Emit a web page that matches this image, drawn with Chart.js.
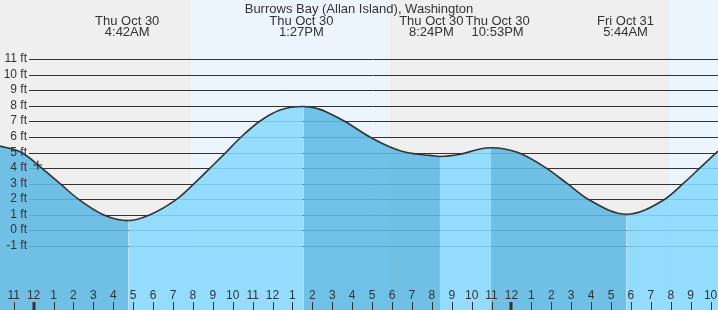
<!DOCTYPE html>
<html>
<head>
<meta charset="utf-8">
<script src="https://cdn.jsdelivr.net/npm/chart.js@4.4.1/dist/chart.umd.min.js"></script>
<style>
  html, body { margin: 0; padding: 0; background: #fff; }
  canvas { display: block; }
</style>
</head>
<body>
<canvas id="tideChart" width="718" height="310"></canvas>
<script>
const chartTitle = 'Burrows Bay (Allan Island), Washington';

// tide height in ft, time in hours from Thu Oct 30 00:00
const tideHours = [-1.69, -0.60, 0.41, 1.33, 2.25, 3.50, 4.76, 5.85, 7.19, 8.06, 8.86, 9.65, 10.42, 11.34, 12.38, 13.55, 14.38, 14.89, 15.64, 16.89, 17.90, 18.74, 19.91, 20.41, 21.41, 22.42, 22.97, 24.33, 25.75, 26.81, 27.85, 29.77, 31.70, 32.62, 33.46, 34.29, 34.37];
const tideFeet = [5.42, 5.0, 4.0, 3.0, 2.0, 1.0, 0.62, 1.0, 2.0, 3.0, 4.0, 5.0, 6.0, 7.0, 7.74, 7.96, 7.78, 7.50, 7.0, 6.0, 5.36, 5.0, 4.82, 4.75, 4.89, 5.23, 5.31, 5.0, 4.0, 3.0, 2.0, 1.03, 2.0, 3.0, 4.0, 5.0, 5.09];

// high / low labels
const eventHours = [4.70, 13.45, 20.40, 22.88, 29.73];
const eventDays = ['Thu Oct 30', 'Thu Oct 30', 'Thu Oct 30', 'Thu Oct 30', 'Fri Oct 31'];
const eventTimes = ['4:42AM', '1:27PM', '8:24PM', '10:53PM', '5:44AM'];

// daylight spans
const dayStart = [7.91, 31.90];
const dayEnd = [17.90, 41.87];

// current time marker
const nowHour = 0.21;
const nowFeet = 4.2;

// axis ticks
const hourTickStart = -1;
const hourLabels = ['11', '12', '1', '2', '3', '4', '5', '6', '7', '8', '9', '10', '11', '12', '1', '2', '3', '4', '5', '6', '7', '8', '9', '10', '11', '12', '1', '2', '3', '4', '5', '6', '7', '8', '9', '10'];
const feetTicks = [-1, 0, 1, 2, 3, 4, 5, 6, 7, 8, 9, 10, 11];

const fontFamily = '"Liberation Sans", Arial, sans-serif';
const textColor = '#333';
const nightColor = '#efefef';
const dayColor = '#ecf5fe';
const riseColor = 'rgba(136, 217, 255, 0.88)';
const fallColor = 'rgba(95, 185, 228, 0.88)';

const tideDecor = {
    id: 'tideDecor',
    beforeDraw(chart) {
        const { ctx, chartArea: a, scales: { x } } = chart;
        ctx.save();
        ctx.fillStyle = nightColor;
        ctx.fillRect(a.left, a.top, a.width, a.height);
        ctx.fillStyle = dayColor;
        dayStart.forEach((s, i) => {
            const x0 = Math.round(x.getPixelForValue(s));
            const x1 = Math.min(Math.round(x.getPixelForValue(dayEnd[i])), a.right);
            ctx.fillRect(x0, a.top, x1 - x0, a.height);
        });
        ctx.restore();
    },
    beforeDatasetsDraw(chart) {
        const { ctx, chartArea: a, scales: { y } } = chart;
        ctx.save();
        ctx.strokeStyle = '#333';
        ctx.lineWidth = 1;
        feetTicks.forEach(v => {
            const py = Math.round(y.getPixelForValue(v)) + 0.5;
            ctx.beginPath();
            ctx.moveTo(29, py);
            ctx.lineTo(a.right, py);
            ctx.stroke();
        });
        ctx.restore();
    },
    afterDatasetsDraw(chart) {
        const { ctx, chartArea: a, scales: { x, y } } = chart;
        ctx.save();
        ctx.fillStyle = textColor;
        ctx.strokeStyle = textColor;

        // y labels
        ctx.font = '12px ' + fontFamily;
        ctx.textAlign = 'right';
        ctx.textBaseline = 'middle';
        feetTicks.forEach(v => {
            const py = Math.round(y.getPixelForValue(v));
            ctx.fillText(v + ' ft', 27, py);
        });

        // hour labels and ticks
        ctx.textAlign = 'center';
        ctx.textBaseline = 'alphabetic';
        ctx.lineWidth = 1;
        hourLabels.forEach((lab, i) => {
            const h = hourTickStart + i;
            const px = x.getPixelForValue(h);
            ctx.fillText(lab, px, 299);
            if (h % 24 === 0) {
                ctx.fillRect(Math.round(px) - 1.5, 302, 3, a.bottom - 302);
            } else {
                ctx.beginPath();
                ctx.moveTo(Math.round(px) + 0.5, 302);
                ctx.lineTo(Math.round(px) + 0.5, a.bottom);
                ctx.stroke();
            }
        });

        // title
        ctx.font = '13px ' + fontFamily;
        ctx.fillText(chartTitle, (a.left + a.right) / 2, 12.5);

        // high / low labels, pushed apart when they collide
        const boxes = eventHours.map((h, i) => ({
            cx: x.getPixelForValue(h),
            w: Math.max(ctx.measureText(eventDays[i]).width, ctx.measureText(eventTimes[i]).width)
        }));
        for (let pass = 0; pass < 3; pass++) {
            for (let i = 0; i < boxes.length - 1; i++) {
                const p = boxes[i], q = boxes[i + 1];
                const need = (p.w + q.w) / 2 + 2 - (q.cx - p.cx);
                if (need > 0) {
                    p.cx -= need / 2;
                    q.cx += need / 2;
                }
            }
        }
        boxes.forEach((b, i) => {
            ctx.fillText(eventDays[i], b.cx, 25);
            ctx.fillText(eventTimes[i], b.cx, 36);
        });
        ctx.restore();
    }
};

window.onload = function() {
    const ctx = document.getElementById('tideChart');

    const tidePoints = tideHours.map((h, i) => ({ x: h, y: tideFeet[i] }));

    const myChart = new Chart(ctx, {
        type: 'line',
        data: {
            datasets: [{
                label: 'Tide',
                data: tidePoints,
                order: 2,
                borderColor: '#333',
                borderWidth: 1.6,
                backgroundColor: riseColor,
                fill: 'start',
                pointRadius: 0,
                cubicInterpolationMode: 'monotone',
                segment: {
                    backgroundColor: c => c.p1.parsed.y < c.p0.parsed.y ? fallColor : riseColor
                }
            }, {
                label: 'Now',
                data: [{ x: nowHour, y: nowFeet }],
                order: 1,
                showLine: false,
                fill: false,
                pointStyle: 'cross',
                pointRadius: 4.5,
                borderColor: '#333',
                borderWidth: 1.2
            }]
        },
        options: {
            responsive: false,
            animation: false,
            devicePixelRatio: 1,
            layout: { padding: 0, autoPadding: false },
            scales: {
                x: { type: 'linear', min: -1.688, max: 34.374, display: false },
                y: { min: -5.127, max: 14.815, display: false }
            },
            plugins: {
                legend: { display: false },
                tooltip: { enabled: false }
            }
        },
        plugins: [tideDecor]
    });
};
</script>
</body>
</html>
